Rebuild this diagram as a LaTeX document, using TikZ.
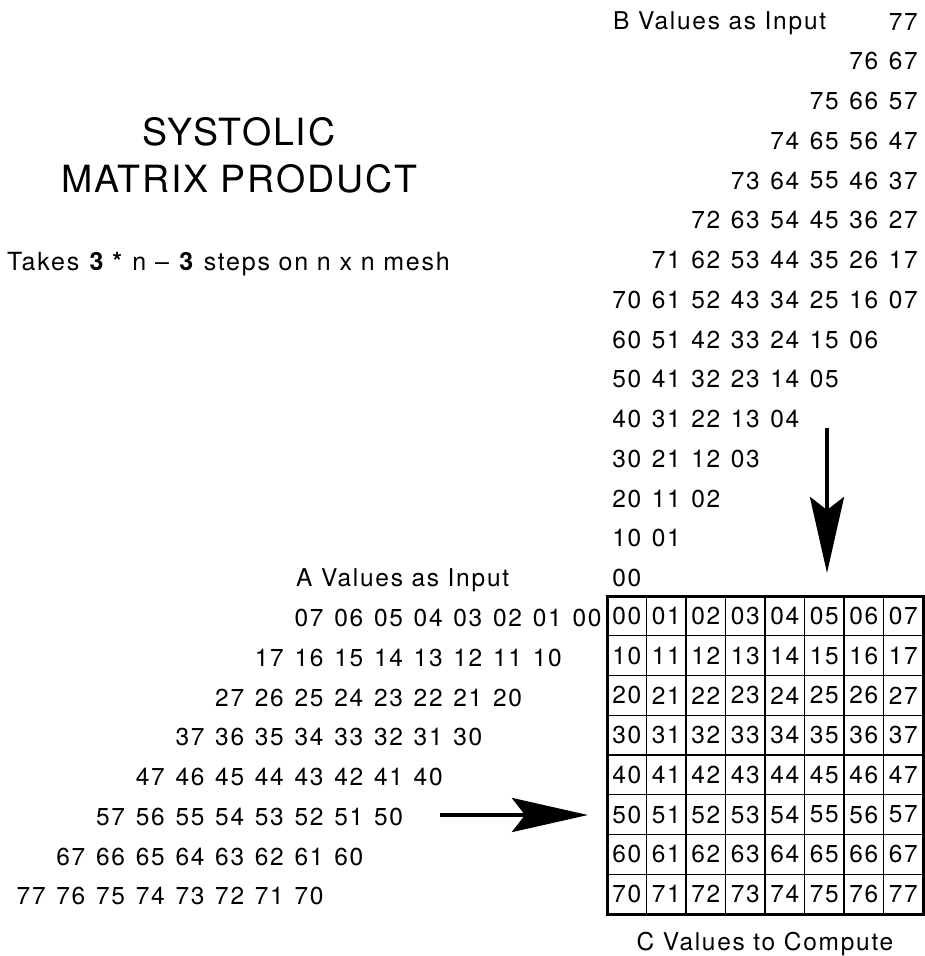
\documentclass[tikz,border=0pt]{standalone}
\usepackage{fontspec}
\setmainfont{TeX Gyre Heros}[LetterSpace=7]
\newfontfamily\titlefont{TeX Gyre Heros}[LetterSpace=5]
\usetikzlibrary{arrows.meta}
\begin{document}
\begin{tikzpicture}[x=1pt,y=-1pt,
  num/.style={inner sep=0pt, font=\fontsize{24.5}{28}\selectfont},
  lbl/.style={inner sep=0pt, font=\fontsize{24.5}{28}\selectfont},
  cell/.style={draw, line width=1.2pt, minimum width=39.5pt, minimum height=39.75pt,
    inner sep=0pt, outer sep=0pt, font=\fontsize{24.5}{28}\selectfont},
  bigarrow/.style={line width=4.6pt, -{Stealth[length=76pt,width=34pt,inset=13pt]}}]
\fill[white] (0,0) rectangle (925,956);
\useasboundingbox (0,0) rectangle (925,956);

% title and subtitle
\node[anchor=base, inner sep=0pt, font=\titlefont\fontsize{37.5}{40}\selectfont] (t1) at (239,145) {SYSTOLIC};
\node[anchor=base, inner sep=0pt, font=\titlefont\fontsize{37.5}{40}\selectfont] (t2) at (239,192) {MATRIX PRODUCT};
\node[anchor=base west, inner sep=0pt, font=\fontsize{25}{28}\selectfont] (sub) at (7,270) {Takes \textbf{3 *} n – \textbf{3} steps on n x n mesh};

% C grid
\foreach \i in {0,...,7}{\foreach \j in {0,...,7}{
  \node[cell] (c\i\j) at ({607+39.5*(\j+0.5)},{596+39.75*(\i+0.5)}) {\i\j};
}}
\draw[line width=3pt] (c00.north west) rectangle (c77.south east);

% B values
\foreach \r in {0,...,14}{\foreach \c in {0,...,7}{
  \pgfmathtruncatemacro\d{14-\r-\c}
  \ifnum\d<0 \else\ifnum\d>7 \else
    \node[num] (b\r-\c) at ({607+39.5*(\c+0.5)},{21.5+39.75*\r}) {\d\c};
  \fi\fi
}}

% A values
\foreach \i in {0,...,7}{\foreach \k in {0,...,7}{
  \node[num] (a\i-\k) at ({587-39.7*(\i+\k)},{618+39.75*\i}) {\i\k};
}}

% labels
\node[lbl, anchor=base west] (blabel) at (613,29) {B Values as Input};
\node[lbl, anchor=base west] (alabel) at (296,586) {A Values as Input};
\node[lbl, anchor=base] (clabel) at (765,950) {C Values to Compute};

% arrows
\coordinate (ds) at (827,428); \coordinate (de) at (827,573);
\draw[bigarrow] (ds) -- (de);
\coordinate (rs) at (440,815); \coordinate (re) at (588,815);
\draw[bigarrow] (rs) -- (re);
\end{tikzpicture}
\end{document}
